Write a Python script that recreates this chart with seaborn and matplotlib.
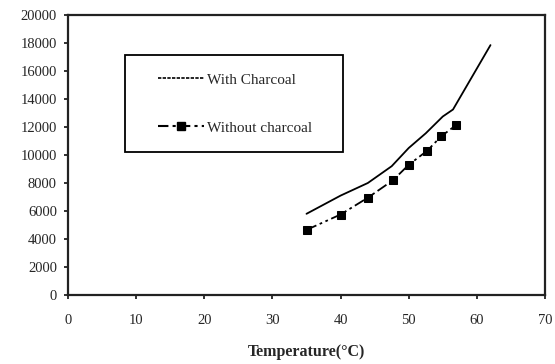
import matplotlib
matplotlib.use("Agg")
import matplotlib.pyplot as plt
from matplotlib.lines import Line2D
from matplotlib.patches import Rectangle
import seaborn as sns
import pandas as pd

temp_with = [35, 40, 44, 47.5, 50, 52.5, 55, 56.5, 62]
val_with = [5800, 7100, 8000, 9200, 10500, 11550, 12750, 13250, 17850]

temp_without = [35, 40, 44, 47.7, 50, 52.7, 54.8, 57]
val_without = [4650, 5750, 6950, 8200, 9300, 10300, 11350, 12150]

x_ticks = [0, 10, 20, 30, 40, 50, 60, 70]
y_ticks = [0, 2000, 4000, 6000, 8000, 10000, 12000, 14000, 16000, 18000, 20000]
label_with = "With Charcoal"
label_without = "Without charcoal"
x_label = "Temperature(°C)"

sns.set_style("white")
plt.rcParams['font.family'] = ['Liberation Serif', 'DejaVu Serif']

fig = plt.figure(figsize=(5.55, 3.64), dpi=100)
L, R, T, B = 68, 545, 15, 295
ax = fig.add_axes([L/555, 1-B/364, (R-L)/555, (B-T)/364])

df_with = pd.DataFrame({"T": temp_with, "V": val_with})
df_without = pd.DataFrame({"T": temp_without, "V": val_without})

sns.lineplot(data=df_with, x="T", y="V", ax=ax, color="black", lw=1.3)
sns.lineplot(data=df_without, x="T", y="V", ax=ax, color="black", lw=1.3,
             marker="s", markersize=5.5, markeredgecolor="black",
             dashes=False, linestyle=(0, (6, 2, 1.5, 2, 1.5, 2)))

ax.set_xlim(0, 70)
ax.set_ylim(0, 20000)
ax.set_xticks(x_ticks)
ax.set_yticks(y_ticks)
ax.set_xticklabels([str(t) for t in x_ticks], fontsize=10.5)
ax.set_yticklabels([str(t) for t in y_ticks], fontsize=10.5)
ax.set_xlabel(x_label, fontsize=11.5, fontweight="bold", labelpad=12)
ax.set_ylabel("")
for s in ax.spines.values():
    s.set_linewidth(1.6)
    s.set_color("#222222")
    s.set_visible(True)
ax.tick_params(axis="both", direction="out", length=3, width=1.3, color="#222222",
               left=True, bottom=True, pad=5)
ax.tick_params(axis="x", pad=11)

def fx(px):
    return (px - L) / (R - L)

def fy(py):
    return (B - py) / (B - T)

# legend frame
ax.add_patch(Rectangle((fx(125), fy(152)), fx(343) - fx(125), fy(55) - fy(152),
                       transform=ax.transAxes, fill=True, facecolor="white",
                       edgecolor="black", lw=1.3, zorder=4))

handles = [
    Line2D([], [], color="black", lw=1.2, linestyle=(0, (2, 0.8))),
    Line2D([], [], color="black", lw=1.5, marker="s", markersize=5.5,
           linestyle=(0, (5, 2, 1.5, 2))),
]
leg = ax.legend(handles, [label_with, label_without],
                loc="upper left",
                bbox_to_anchor=(fx(158), fy(73)),
                fontsize=11, frameon=False, handlelength=3.0, handletextpad=0.2,
                labelspacing=2.25, borderpad=0, borderaxespad=0)
leg.set_zorder(5)

fig.savefig("out.png", dpi=100)
